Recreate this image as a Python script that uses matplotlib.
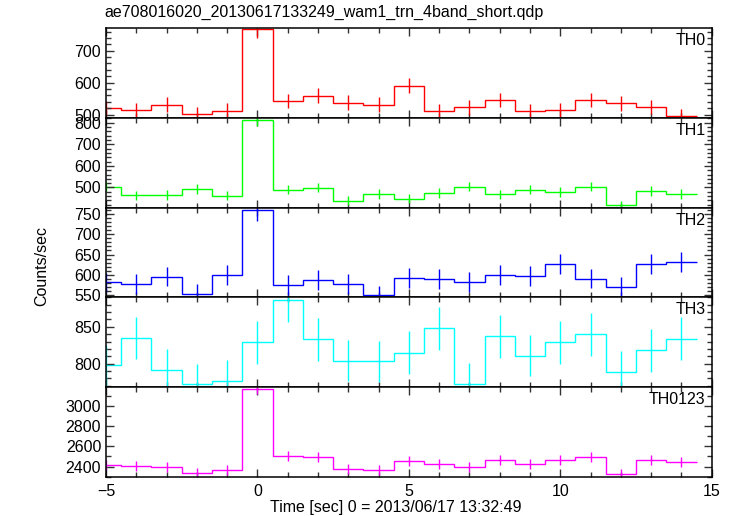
"""Stacked WAM light curves (TH0..TH3 + sum) in the old QDP/PGPLOT look."""
import numpy as np
import matplotlib
matplotlib.use("Agg")
import matplotlib.pyplot as plt
from matplotlib.ticker import MultipleLocator

plt.rcParams["font.family"] = ["Liberation Sans", "DejaVu Sans"]

TITLE = "ae708016020_20130617133249_wam1_trn_4band_short.qdp"
XLABEL = "Time [sec] 0 = 2013/06/17 13:32:49"
YLABEL = "Counts/sec"

# bin centres in seconds (1 s bins)
time = list(range(-5, 15))

th0 = [521, 513, 531, 503, 512, 767, 543, 559, 537, 531,
       591, 510, 523, 546, 510, 514, 546, 535, 524, 497]
th0_err = [23, 23, 23, 22, 23, 28, 23, 24, 23, 23,
           24, 23, 23, 23, 23, 23, 23, 23, 23, 22]

th1 = [504, 464, 465, 493, 461, 811, 490, 499, 439, 470,
       448, 475, 504, 468, 490, 479, 504, 419, 484, 470]
th1_err = [22, 22, 22, 22, 21, 28, 22, 22, 21, 22,
           21, 22, 22, 22, 22, 22, 22, 20, 22, 22]

th2 = [582, 578, 596, 553, 600, 759, 576, 588, 578, 551,
       592, 590, 583, 600, 598, 627, 591, 570, 627, 632]
th2_err = [24, 24, 24, 24, 24, 28, 24, 24, 24, 23,
           24, 24, 24, 24, 24, 25, 24, 24, 25, 25]

th3 = [798, 835, 792, 772, 777, 829, 887, 833, 804, 803,
       815, 848, 773, 837, 811, 829, 840, 789, 818, 834]
th3_err = [28, 29, 28, 28, 28, 29, 30, 29, 28, 28,
           29, 29, 28, 29, 28, 29, 29, 28, 29, 29]

th0123 = [2415, 2405, 2395, 2333, 2362, 3169, 2503, 2490, 2372, 2362,
          2454, 2428, 2395, 2461, 2422, 2461, 2497, 2323, 2467, 2444]
th0123_err = [49, 49, 49, 48, 49, 56, 50, 50, 49, 49,
              50, 49, 49, 50, 49, 50, 50, 48, 50, 49]

panels = [
    ("TH0", th0, th0_err, "#ff0000", (490, 771), 100, 20, [500, 600, 700]),
    ("TH1", th1, th1_err, "#00ff00", (407, 822), 100, 20, [500, 600, 700, 800]),
    ("TH2", th2, th2_err, "#0000ff", (545, 765), 50, 10, [550, 600, 650, 700, 750]),
    ("TH3", th3, th3_err, "#00ffff", (768, 890), 50, 10, [800, 850]),
    ("TH0123", th0123, th0123_err, "#ff00ff", (2297, 3182), 200, 100,
     [2400, 2600, 2800, 3000]),
]

fig, axes = plt.subplots(5, 1, sharex=True, figsize=(7.33, 5.16), dpi=100)
fig.subplots_adjust(left=0.1446, right=0.971, bottom=0.0756, top=0.9457, hspace=0)

t = np.array(time)
edges = np.append(t - 0.5, t[-1] + 0.5)

for ax, (name, vals, err, col, ylim, major, minor, ticks) in zip(axes, panels):
    ax.stairs(vals, edges, baseline=None, color=col, lw=1.0)
    ax.errorbar(t, vals, yerr=err, fmt="none", ecolor=col, elinewidth=1.0)
    ax.set_xlim(-5, 15)
    ax.set_ylim(*ylim)
    ax.set_yticks(ticks)
    ax.yaxis.set_minor_locator(MultipleLocator(minor))
    ax.xaxis.set_major_locator(MultipleLocator(5))
    ax.xaxis.set_minor_locator(MultipleLocator(1))
    ax.tick_params(which="both", direction="in", top=True, right=True,
                   labelsize=11.5, width=1.0, color="#333333")
    ax.tick_params(which="major", length=6)
    ax.tick_params(which="minor", length=3.5)
    for s in ax.spines.values():
        s.set_linewidth(1.1)
    ax.text(0.99, 0.86, name, transform=ax.transAxes, ha="right", va="center",
            fontsize=11.5)

axes[-1].tick_params(axis="x", pad=5)
fig.text(0.143, 0.976, TITLE, ha="left", va="center", fontsize=11.5)
fig.text(0.057, 0.485, YLABEL, ha="center", va="center", rotation=90, fontsize=11.5)
fig.text(0.54, 0.017, XLABEL, ha="center", va="center", fontsize=11.5)

fig.savefig("out.png", dpi=100)
